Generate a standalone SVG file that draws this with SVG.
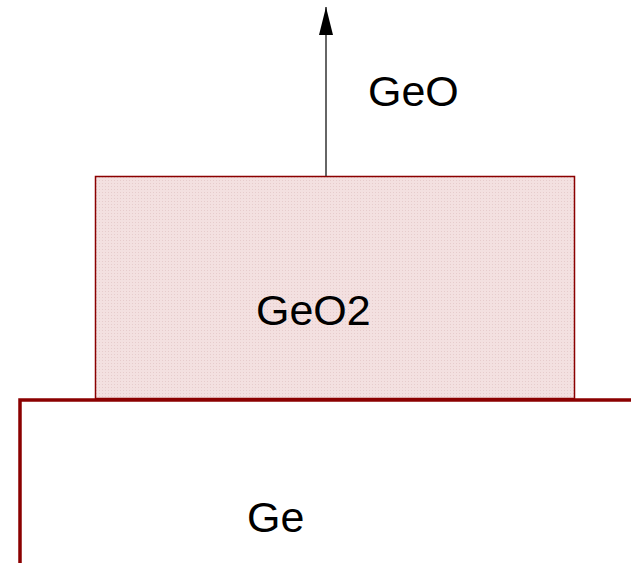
<svg xmlns="http://www.w3.org/2000/svg" width="631" height="563" viewBox="0 0 631 563">
<defs>
<style>
.lbl{font-family:"Liberation Sans",Arial,sans-serif;font-size:43px;fill:#000}
</style>
<pattern id="dots" width="3" height="3" patternUnits="userSpaceOnUse">
<rect width="3" height="3" fill="#f3e0e0"/>
<rect width="1" height="1" fill="#e6cccc"/>
</pattern>
<marker id="arr" viewBox="0 0 28 14" refX="28" refY="7" markerWidth="28" markerHeight="14" markerUnits="userSpaceOnUse" orient="auto">
<path d="M28,7 L0,0 L0,14 Z" fill="#000"/>
</marker>
</defs>
<rect width="631" height="563" fill="#fff"/>
<g id="geo2">
<rect x="95.5" y="176.5" width="479" height="222" fill="url(#dots)" stroke="#8b0000" stroke-width="1.5"/>
<text class="lbl" x="256" y="325">GeO2</text>
</g>
<g id="ge">
<path d="M20,563 V400 H631" fill="none" stroke="#8b0000" stroke-width="3.5"/>
<text class="lbl" x="247" y="532">Ge</text>
</g>
<g id="connectors">
<line x1="326" y1="176" x2="326" y2="7" stroke="#333" stroke-width="1.5" marker-end="url(#arr)"/>
</g>
<g id="geo">
<text class="lbl" x="368" y="106">GeO</text>
</g>
</svg>
